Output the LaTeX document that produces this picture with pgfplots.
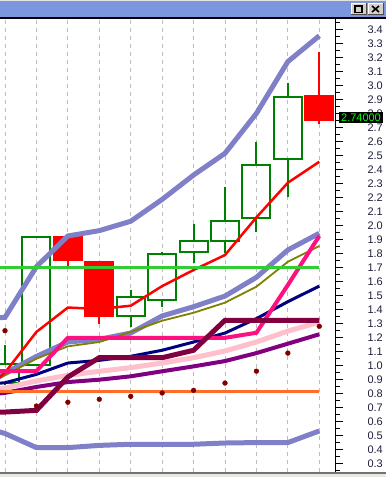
\documentclass[border=0pt]{standalone}
\usepackage{fontspec}
\setmainfont{Liberation Sans}
\usepackage{pgfplots}
\pgfplotsset{compat=1.18}
\definecolor{lav}{RGB}{128,128,200}
\definecolor{cgreen}{RGB}{0,128,0}
\definecolor{hpink}{RGB}{255,16,128}
\definecolor{maroonc}{RGB}{128,0,64}
\definecolor{lpink}{RGB}{255,192,203}
\definecolor{purp}{RGB}{128,0,128}
\definecolor{orng}{RGB}{255,110,40}
\definecolor{lgreen}{RGB}{50,205,50}
\definecolor{dkred}{RGB}{128,0,0}
\definecolor{navyc}{RGB}{0,0,128}
\definecolor{olivec}{RGB}{128,128,0}
\definecolor{titleblue}{RGB}{123,152,222}
\definecolor{btngray}{RGB}{212,208,200}
\definecolor{labcol}{RGB}{30,30,60}
\definecolor{gridc}{RGB}{190,190,190}
\definecolor{brightgreen}{RGB}{0,255,0}
% candle: x, low, box low, box high, high, colour, fill
\newcommand{\candle}[7]{%
  \pgfmathsetmacro\xl{#1-0.445}\pgfmathsetmacro\xr{#1+0.445}%
  \addplot[#6, line width=2bp] coordinates {(#1,#2)(#1,#3)};
  \addplot[#6, line width=2bp] coordinates {(#1,#4)(#1,#5)};
  \addplot[draw=#6, fill=#7, line width=2bp] coordinates {(\xl,#3)(\xr,#3)(\xr,#4)(\xl,#4)} -- cycle;
}
\begin{document}
\begin{tikzpicture}
\useasboundingbox (0,0) rectangle (386bp,477bp);
\fill[white] (0,0) rectangle (386bp,477bp);
\begin{axis}[
  at={(0bp,5bp)}, anchor=south west,
  scale only axis, width=335bp, height=453bp,
  xmin=-0.159, xmax=10.5, ymin=0.24, ymax=3.474,
  axis line style={draw=none},
  xtick={0,...,10}, xticklabels={}, major x tick style={draw=none},
  xmajorgrids, major grid style={gridc, line width=0.8bp, dash pattern=on 4bp off 4bp},
  ytick distance=0.1, minor y tick num=1,
  ytick pos=right, yticklabel pos=right, tick align=outside,
  major tick length=8bp, minor tick length=5bp,
  y tick style={black, line width=0.8bp},
  /pgf/number format/fixed, /pgf/number format/fixed zerofill, /pgf/number format/precision=1, /pgf/number format/assume math mode=true,
  y tick label style={anchor=east, xshift=40bp, inner sep=0pt, font=\fontsize{11}{12}\selectfont, text=labcol},
  clip=true,
]
% candles
\candle{0}{0.86}{0.877}{1.009}{1.147}{cgreen}{none}
\candle{1}{1.006}{1.006}{1.915}{1.915}{cgreen}{none}
\candle{2}{1.694}{1.753}{1.915}{1.915}{red}{red}
\candle{3}{1.30}{1.356}{1.737}{1.737}{red}{red}
\candle{4}{1.275}{1.356}{1.491}{1.539}{cgreen}{none}
\candle{5}{1.42}{1.468}{1.796}{1.808}{cgreen}{none}
\candle{6}{1.734}{1.808}{1.891}{2.01}{cgreen}{none}
\candle{7}{1.805}{1.891}{2.034}{2.277}{cgreen}{none}
\candle{8}{1.955}{2.05}{2.434}{2.598}{cgreen}{none}
\candle{9}{2.205}{2.476}{2.919}{3.015}{cgreen}{none}
\candle{10}{2.724}{2.755}{2.924}{3.24}{red}{red}
% upper band
\addplot[lav, line width=5bp] coordinates {(-1,1.33)(0,1.344)(1,1.706)(2,1.925)(3,1.963)(4,2.03)(5,2.186)(6,2.36)(7,2.515)(8,2.80)(9,3.17)(10,3.354)};
% lower band
\addplot[lav, line width=5bp] coordinates {(-1,0.58)(0,0.515)(1,0.414)(2,0.414)(3,0.43)(4,0.438)(5,0.438)(6,0.438)(7,0.447)(8,0.45)(9,0.45)(10,0.533)};
% middle lavender
\addplot[lav, line width=5bp] coordinates {(-1,0.80)(0,0.945)(1,1.065)(2,1.168)(3,1.187)(4,1.232)(5,1.354)(6,1.42)(7,1.496)(8,1.63)(9,1.825)(10,1.944)};
% olive
\addplot[olivec, line width=1.8bp] coordinates {(-1,0.85)(0,0.93)(1,1.049)(2,1.137)(3,1.168)(4,1.24)(5,1.32)(6,1.377)(7,1.449)(8,1.563)(9,1.741)(10,1.853)};
% navy
\addplot[navyc, line width=3bp] coordinates {(-1,0.86)(0,0.877)(1,0.937)(2,1.018)(3,1.037)(4,1.066)(5,1.109)(6,1.168)(7,1.232)(8,1.335)(9,1.456)(10,1.567)};
% light pink
\addplot[lpink, line width=5bp] coordinates {(-1,0.81)(0,0.84)(1,0.89)(2,0.93)(3,0.959)(4,0.985)(5,1.018)(6,1.056)(7,1.104)(8,1.168)(9,1.246)(10,1.31)};
% purple
\addplot[purp, line width=4bp] coordinates {(-1,0.78)(0,0.805)(1,0.847)(2,0.882)(3,0.899)(4,0.923)(5,0.959)(6,0.994)(7,1.032)(8,1.089)(9,1.156)(10,1.223)};
% red moving average
\addplot[red, line width=2.5bp] coordinates {(-1,0.75)(0,0.95)(1,1.24)(2,1.414)(3,1.404)(4,1.427)(5,1.567)(6,1.682)(7,1.789)(8,2.058)(9,2.305)(10,2.455)};
% hot pink
\addplot[hpink, line width=4bp] coordinates {(-1,0.961)(0,0.961)(1,0.961)(2,1.198)(3,1.198)(4,1.198)(5,1.198)(6,1.198)(7,1.198)(8,1.234)(9,1.575)(10,1.925)};
% orange
\addplot[orng, line width=3bp] coordinates {(-1,0.815)(10,0.815)};
% maroon
\addplot[maroonc, line width=5bp] coordinates {(-1,0.665)(0,0.668)(1,0.68)(2,0.918)(3,1.056)(4,1.056)(5,1.056)(6,1.109)(7,1.323)(8,1.323)(9,1.323)(10,1.323)};
% green level
\addplot[lgreen, line width=3bp] coordinates {(-1,1.7)(10,1.7)};
% SAR dots
\addplot[only marks, mark=*, mark size=2.4bp, dkred, mark options={draw=dkred, fill=dkred}] coordinates {(0,1.249)(1,0.711)(2,0.738)(3,0.759)(4,0.78)(5,0.804)(6,0.823)(7,0.875)(8,0.96)(9,1.089)(10,1.28)};
\coordinate (lastlab) at (axis cs:10.5,2.772);
\end{axis}
% last price label
\node[fill=black, text=brightgreen, anchor=west, inner xsep=2bp, inner ysep=1.8bp, font=\fontsize{11}{12}\selectfont, xshift=4bp] at (lastlab) {2.74000};
\begin{scope}[x=1bp, y=1bp]
% right axis line
\draw[black, line width=1] (335,5) -- (335,458);
% title bar
\fill[btngray!60] (0,476) rectangle (386,477);
\fill[titleblue] (0,459.5) rectangle (386,476);
\fill[black] (0,458) rectangle (386,459.5);
% buttons
\foreach \bx in {351,368}{
  \fill[btngray] (\bx,462) rectangle (\bx+15,474);
  \draw[white, line width=1bp] (\bx,462.5) -- (\bx,473.5) -- (\bx+14.5,473.5);
  \draw[black!70, line width=1bp] (\bx,462.5) -- (\bx+15,462.5) -- (\bx+15,474);
}
\draw[black, line width=1.2bp] (355,464.5) rectangle (362,471);
\draw[black, line width=1.6bp] (372,465) -- (379,471) (372,471) -- (379,465);
% bottom edge
\fill[black!55] (0,3.5) rectangle (386,5);
\fill[btngray!50] (0,0) rectangle (386,3.5);
\end{scope}
\end{tikzpicture}
\end{document}
